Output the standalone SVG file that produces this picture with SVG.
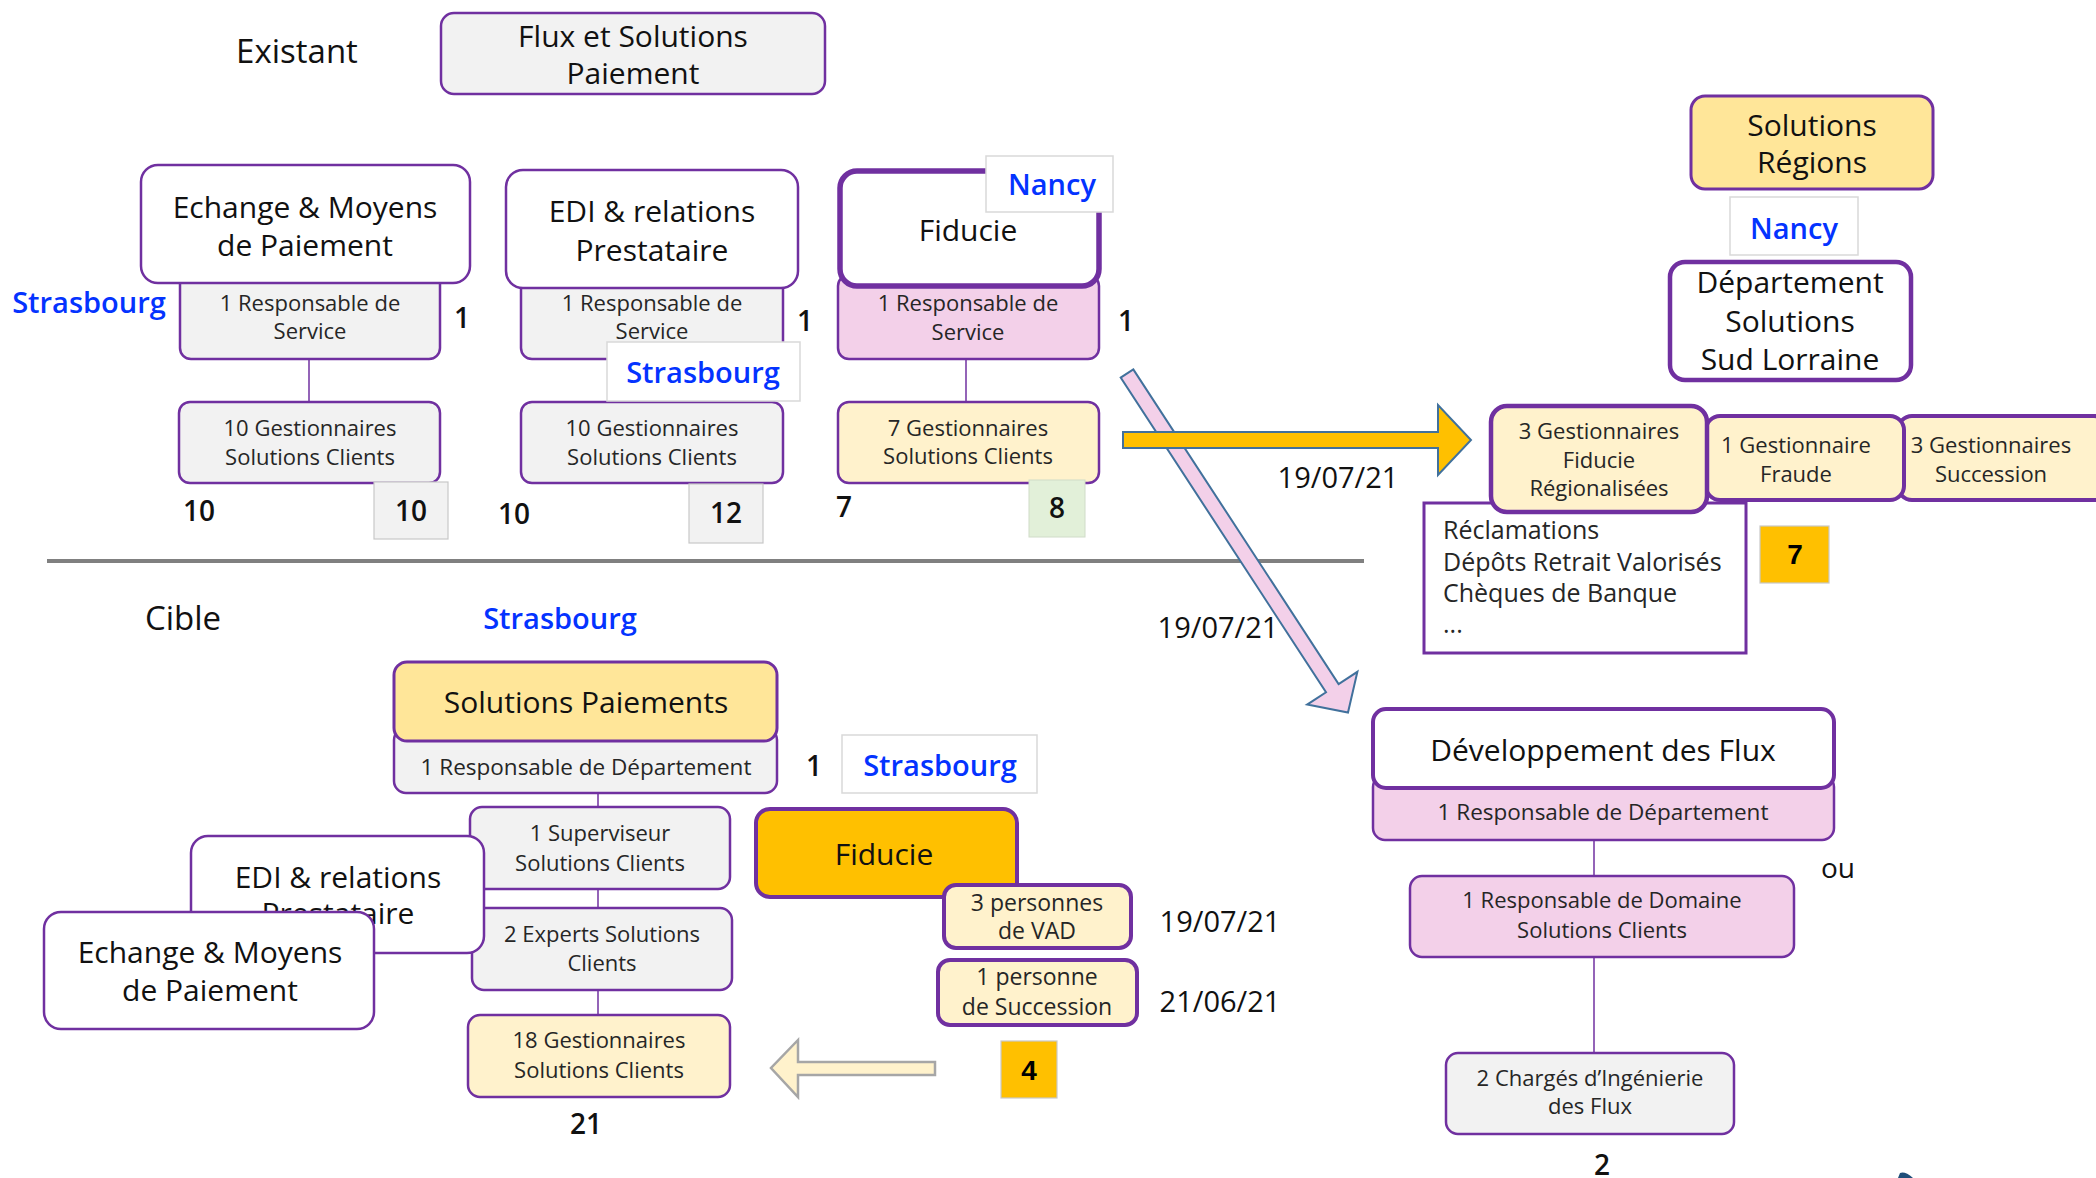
<svg xmlns="http://www.w3.org/2000/svg" width="2096" height="1178" viewBox="0 0 2096 1178">
  <style>
    text { font-family: "Open Sans", "Noto Sans", "Liberation Sans", sans-serif; fill: #111; }
    .title { font-size: 30px; text-anchor: middle; }
    .sub { font-size: 22px; text-anchor: middle; fill: #262626; }
    .sub23 { font-size: 23px; }
    .sub225 { font-size: 22.5px; }
    .head { font-size: 33px; text-anchor: middle; }
    .city { font-size: 29px; font-weight: 600; fill: #0433ff; text-anchor: middle; }
    .num { font-size: 28px; font-weight: 600; text-anchor: middle; }
    .plain { font-weight: 400; }
    .badge { font-family: "Liberation Sans", Arial, sans-serif; font-size: 28px; font-weight: bold; text-anchor: middle; fill: #000; }
    .date { font-size: 29px; text-anchor: middle; }
    .list { font-size: 25px; fill: #262626; }
    .box { stroke: #7030a0; stroke-width: 2.5; }
    .w3 { stroke-width: 3; }
    .w35 { stroke-width: 3.5; }
    .w4 { stroke-width: 4; }
    .w45 { stroke-width: 4.5; }
    .w5 { stroke-width: 5.5; }
    .white { fill: #ffffff; }
    .grey { fill: #f2f2f2; }
    .cream { fill: #fff2cc; }
    .gold { fill: #ffe699; }
    .orange { fill: #ffc000; }
    .pink { fill: #f3d0e9; }
    .label { fill: #ffffff; stroke: #d9d9d9; stroke-width: 1.5; }
    .tag { stroke: #c8c8c8; stroke-width: 1.2; }
    .link { stroke: #7030a0; stroke-width: 1.5; fill: none; }
  </style>

  <!-- headings -->
  <text class="head" x="297" y="63">Existant</text>
  <text class="head" x="183" y="630">Cible</text>

  <!-- separator between current and target organisation -->
  <line x1="47" y1="561" x2="1364" y2="561" stroke="#808080" stroke-width="4"/>

  <!-- connectors -->
  <g id="connectors">
    <line class="link" x1="309" y1="359" x2="309" y2="402"/>
    <line class="link" x1="652" y1="359" x2="652" y2="402"/>
    <line class="link" x1="966" y1="359" x2="966" y2="402"/>
    <line class="link" x1="598" y1="793" x2="598" y2="1015"/>
    <line class="link" x1="1594" y1="840" x2="1594" y2="876"/>
    <line class="link" x1="1594" y1="957" x2="1594" y2="1053"/>
  </g>

  <g id="flux-solutions-paiement">
    <rect class="box grey" x="441" y="13" width="384" height="81" rx="13"/>
    <text class="title" x="633" y="47">Flux et Solutions</text>
    <text class="title" x="633" y="84">Paiement</text>
  </g>

  <!-- current: Echange & Moyens de Paiement -->
  <g id="echange-existant">
    <rect class="box grey" x="180" y="270" width="260" height="89" rx="11"/>
    <rect class="box white" x="141" y="165" width="329" height="118" rx="17"/>
    <text class="title" x="305" y="218">Echange &amp; Moyens</text>
    <text class="title" x="305" y="256">de Paiement</text>
    <text class="sub" x="310" y="311">1 Responsable de</text>
    <text class="sub" x="310" y="339">Service</text>
  </g>
  <g id="gest-echange-existant">
    <rect class="box grey" x="179" y="402" width="261" height="81" rx="11"/>
    <text class="sub" x="310" y="436">10 Gestionnaires</text>
    <text class="sub" x="310" y="465">Solutions Clients</text>
  </g>
  <text class="city" x="89" y="313">Strasbourg</text>
  <text class="num" x="462" y="328">1</text>
  <text class="num" x="199" y="521">10</text>
  <g id="count-echange">
    <rect class="grey tag" x="374" y="482" width="74" height="57"/>
    <text class="num" x="411" y="521">10</text>
  </g>

  <!-- current: EDI & relations Prestataire -->
  <g id="edi-existant">
    <rect class="box grey" x="521" y="275" width="262" height="84" rx="11"/>
    <rect class="box white" x="506" y="170" width="292" height="118" rx="17"/>
    <text class="title" x="652" y="222">EDI &amp; relations</text>
    <text class="title" x="652" y="261">Prestataire</text>
    <text class="sub" x="652" y="311">1 Responsable de</text>
    <text class="sub" x="652" y="339">Service</text>
  </g>
  <g id="gest-edi-existant">
    <rect class="box grey" x="521" y="402" width="262" height="81" rx="11"/>
    <text class="sub" x="652" y="436">10 Gestionnaires</text>
    <text class="sub" x="652" y="465">Solutions Clients</text>
  </g>
  <g id="label-strasbourg-edi">
    <rect class="label" x="607" y="342" width="193" height="59"/>
    <text class="city" x="703" y="383">Strasbourg</text>
  </g>
  <text class="num" x="805" y="331">1</text>
  <text class="num" x="514" y="524">10</text>
  <g id="count-edi">
    <rect class="grey tag" x="689" y="484" width="74" height="59"/>
    <text class="num" x="726" y="523">12</text>
  </g>

  <!-- current: Fiducie -->
  <g id="fiducie-existant">
    <rect class="box pink" x="838" y="275" width="261" height="84" rx="11"/>
    <rect class="box white w5" x="840" y="171" width="259" height="115" rx="17"/>
    <text class="title" x="968" y="241">Fiducie</text>
    <text class="sub" x="968" y="311">1 Responsable de</text>
    <text class="sub" x="968" y="340">Service</text>
  </g>
  <g id="label-nancy-fiducie">
    <rect class="label" x="986" y="156" width="127" height="56"/>
    <text class="city" x="1052" y="195">Nancy</text>
  </g>
  <g id="gest-fiducie-existant">
    <rect class="box cream" x="838" y="402" width="261" height="81" rx="11"/>
    <text class="sub" x="968" y="436">7 Gestionnaires</text>
    <text class="sub" x="968" y="464">Solutions Clients</text>
  </g>
  <text class="num" x="1126" y="331">1</text>
  <text class="num" x="844" y="517">7</text>
  <g id="count-fiducie">
    <rect fill="#e2f0d9" stroke="#d0dcc8" stroke-width="1" x="1029" y="480" width="56" height="57"/>
    <text class="num" x="1057" y="518">8</text>
  </g>

  <!-- right: Solutions Régions -->
  <g id="solutions-regions">
    <rect class="box gold w3" x="1691" y="96" width="242" height="93" rx="14"/>
    <text class="title" x="1812" y="136">Solutions</text>
    <text class="title" x="1812" y="173">Régions</text>
  </g>
  <g id="label-nancy-regions">
    <rect class="label" x="1730" y="197" width="128" height="58"/>
    <text class="city" x="1794" y="239">Nancy</text>
  </g>
  <g id="dept-sud-lorraine">
    <rect class="box white w45" x="1670" y="262" width="241" height="118" rx="15"/>
    <text class="title" x="1790" y="293">Département</text>
    <text class="title" x="1790" y="332">Solutions</text>
    <text class="title" x="1790" y="370">Sud Lorraine</text>
  </g>
  <g id="reclamations">
    <rect class="box white w3" x="1424" y="503" width="322" height="150"/>
    <text class="list" x="1443" y="539">Réclamations</text>
    <text class="list" x="1443" y="571">Dépôts Retrait Valorisés</text>
    <text class="list" x="1443" y="602">Chèques de Banque</text>
    <text class="list" x="1443" y="633">...</text>
  </g>
  <g id="gest-succession">
    <rect class="box cream w4" x="1898" y="416" width="210" height="84" rx="14"/>
    <text class="sub" x="1991" y="453">3 Gestionnaires</text>
    <text class="sub" x="1991" y="482">Succession</text>
  </g>
  <g id="gest-fraude">
    <rect class="box cream w4" x="1706" y="416" width="198" height="84" rx="14"/>
    <text class="sub" x="1796" y="453">1 Gestionnaire</text>
    <text class="sub" x="1796" y="482">Fraude</text>
  </g>
  <g id="gest-fiducie-regions">
    <rect class="box cream w45" x="1491" y="406" width="216" height="106" rx="16"/>
    <text class="sub" x="1599" y="439">3 Gestionnaires</text>
    <text class="sub" x="1599" y="468">Fiducie</text>
    <text class="sub" x="1599" y="496">Régionalisées</text>
  </g>
  <g id="count-regions">
    <rect class="orange tag" x="1760" y="526" width="69" height="57"/>
    <text class="badge" x="1795" y="564">7</text>
  </g>

  <!-- target: Solutions Paiements -->
  <text class="city" x="560" y="629">Strasbourg</text>
  <g id="solutions-paiements">
    <rect class="box grey" x="394" y="728" width="383" height="65" rx="12"/>
    <rect class="box gold w3" x="394" y="662" width="383" height="79" rx="13"/>
    <text class="title" x="586" y="713">Solutions Paiements</text>
    <text class="sub sub225" x="586" y="775">1 Responsable de Département</text>
  </g>
  <text class="num" x="814" y="776">1</text>
  <g id="label-strasbourg-cible">
    <rect class="label" x="842" y="735" width="195" height="58"/>
    <text class="city" x="940" y="776">Strasbourg</text>
  </g>
  <g id="superviseur">
    <rect class="box grey" x="470" y="807" width="260" height="82" rx="12"/>
    <text class="sub" x="600" y="841">1 Superviseur</text>
    <text class="sub" x="600" y="871">Solutions Clients</text>
  </g>
  <g id="experts">
    <rect class="box grey" x="472" y="908" width="260" height="82" rx="12"/>
    <text class="sub" x="602" y="942">2 Experts Solutions</text>
    <text class="sub" x="602" y="971">Clients</text>
  </g>
  <g id="edi-cible">
    <rect class="box white" x="191" y="836" width="293" height="117" rx="17"/>
    <text class="title" x="338" y="888">EDI &amp; relations</text>
    <text class="title" x="338" y="924">Prestataire</text>
  </g>
  <g id="echange-cible">
    <rect class="box white" x="44" y="912" width="330" height="117" rx="17"/>
    <text class="title" x="210" y="963">Echange &amp; Moyens</text>
    <text class="title" x="210" y="1001">de Paiement</text>
  </g>
  <g id="gest-cible">
    <rect class="box cream" x="468" y="1015" width="262" height="82" rx="12"/>
    <text class="sub" x="599" y="1048">18 Gestionnaires</text>
    <text class="sub" x="599" y="1078">Solutions Clients</text>
  </g>
  <text class="num" x="586" y="1134">21</text>

  <!-- target: Fiducie -->
  <g id="fiducie-cible">
    <rect class="box orange w4" x="756" y="809" width="261" height="88" rx="14"/>
    <text class="title" x="884" y="865">Fiducie</text>
  </g>
  <g id="vad">
    <rect class="box cream w4" x="944" y="885" width="187" height="63" rx="12"/>
    <text class="sub sub23" x="1037" y="911">3 personnes</text>
    <text class="sub sub23" x="1037" y="939">de VAD</text>
  </g>
  <g id="succession">
    <rect class="box cream w4" x="938" y="960" width="199" height="65" rx="12"/>
    <text class="sub sub23" x="1037" y="985">1 personne</text>
    <text class="sub sub23" x="1037" y="1015">de Succession</text>
  </g>
  <text class="date" x="1220" y="932">19/07/21</text>
  <text class="date" x="1220" y="1012">21/06/21</text>
  <g id="count-fiducie-cible">
    <rect class="orange tag" x="1001" y="1041" width="56" height="57"/>
    <text class="badge" x="1029" y="1080">4</text>
  </g>

  <!-- target: Développement des Flux -->
  <g id="dev-flux">
    <rect class="box pink" x="1373" y="775" width="461" height="65" rx="12"/>
    <rect class="box white w4" x="1373" y="709" width="461" height="79" rx="13"/>
    <text class="title" x="1603" y="761">Développement des Flux</text>
    <text class="sub sub225" x="1603" y="820">1 Responsable de Département</text>
  </g>
  <text class="num plain" x="1838" y="878">ou</text>
  <g id="resp-domaine">
    <rect class="box pink" x="1410" y="876" width="384" height="81" rx="12"/>
    <text class="sub" x="1602" y="908">1 Responsable de Domaine</text>
    <text class="sub" x="1602" y="938">Solutions Clients</text>
  </g>
  <g id="charges-ingenierie">
    <rect class="box grey" x="1446" y="1053" width="288" height="81" rx="12"/>
    <text class="sub" x="1590" y="1086">2 Chargés d’Ingénierie</text>
    <text class="sub" x="1590" y="1114">des Flux</text>
  </g>
  <text class="num" x="1602" y="1175">2</text>

  <!-- transfer arrows -->
  <g id="transfers">
    <polygon points="1133.3,369.4 1338.6,684.1 1357.4,671.8 1348,712.5 1307.2,704.6 1326,692.3 1120.7,377.6" fill="#f3d0e9" stroke="#41719c" stroke-width="2"/>
    <polygon points="1123,432 1438,432 1438,405 1471,440 1438,475 1438,448 1123,448" fill="#ffc000" stroke="#41719c" stroke-width="2"/>
    <polygon points="935,1062 798,1062 798,1040 771,1068 798,1097 798,1075 935,1075" fill="#fff2cc" stroke="#a6a6a6" stroke-width="2.5"/>
    <path d="M1898,1178 L1900,1173 Q1905,1171 1913,1178 Z" fill="#1f4e79"/>
  </g>
  <text class="date" x="1338" y="488">19/07/21</text>
  <text class="date" x="1218" y="638">19/07/21</text>
</svg>
